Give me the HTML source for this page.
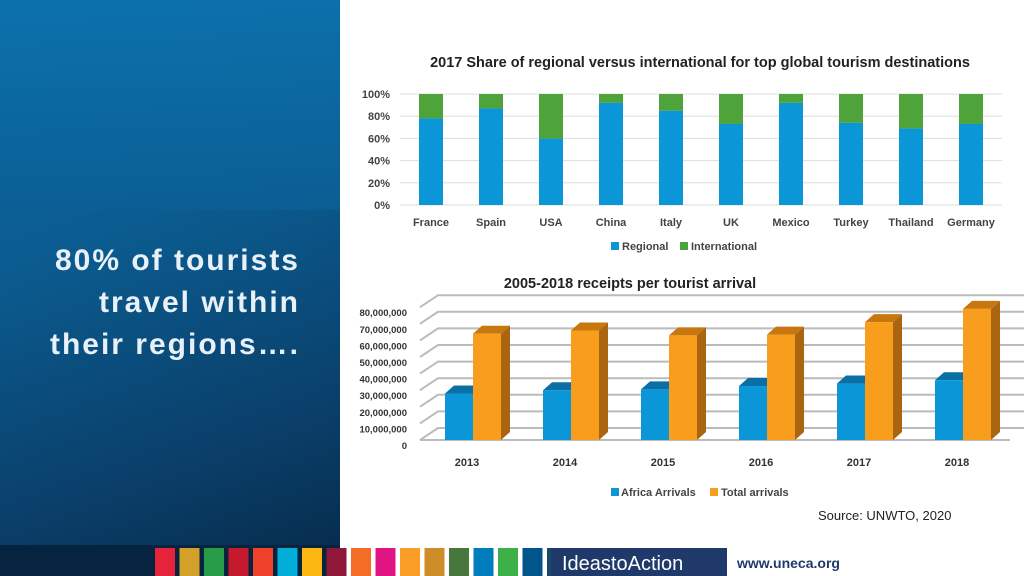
<!DOCTYPE html>
<html><head><meta charset="utf-8"><style>
body{margin:0;width:1024px;height:576px;overflow:hidden;background:#fff;font-family:"Liberation Sans",sans-serif;position:relative}
#left{position:absolute;left:0;top:0;width:340px;height:576px;background:linear-gradient(160deg,#0a6aa3 0%,#0b5b8f 40%,#0a3f6a 75%,#062a48 100%)}
#lefttop{position:absolute;left:0;top:0;width:340px;height:210px;background:linear-gradient(180deg,#0d73ae,#0a5f96);opacity:.8}
#headline{position:absolute;left:0;top:240px;width:300px;text-align:right;color:#e8f0f8;font:bold 30px/42px "Liberation Sans",sans-serif;letter-spacing:2px;white-space:nowrap}
svg text{font-family:"Liberation Sans",sans-serif}
</style></head><body>
<div id="left"></div>
<div id="lefttop"></div>
<div id="headline">80% of tourists<br>travel within<br>their regions….</div>
<svg id="s" width="1024" height="576" style="position:absolute;left:0;top:0"></svg>
<script>
const countries=["France","Spain","USA","China","Italy","UK","Mexico","Turkey","Thailand","Germany"];
const regional=[78,87,60,92,85,73,92,74,69,73];
const pctTicks=["0%","20%","40%","60%","80%","100%"];
const years=["2013","2014","2015","2016","2017","2018"];
const africa=[28,30,30.5,32.5,34,36];
const total=[64,66,63,63.5,71,79];
const moneyTicks=["0","10,000,000","20,000,000","30,000,000","40,000,000","50,000,000","60,000,000","70,000,000","80,000,000"];
const NS="http://www.w3.org/2000/svg";
const s=document.getElementById('s');
function mk(t,a,txt){const e=document.createElementNS(NS,t);for(const k in a)e.setAttribute(k,a[k]);if(txt!==undefined)e.textContent=txt;s.appendChild(e);return e;}
// chart 1
let e=mk('text',{x:700,y:67,'text-anchor':'middle','font-size':14.5,'font-weight':'bold',fill:'#222'},'2017 Share of regional versus international for top global tourism destinations');

const y1=v=>205-v*1.11, x1=i=>431+i*60;
pctTicks.forEach((t,i)=>{const y=y1(i*20);
 e=mk('line',{x1:400,x2:1002,y1:y,y2:y,stroke:'#ddd'});
 e=mk('text',{x:390,y:y+4,'text-anchor':'end','font-size':11,'font-weight':'bold',fill:'#444'},t);});
countries.forEach((c,i)=>{const r=regional[i];
 e=mk('rect',{x:x1(i)-12,y:y1(r),width:24,height:y1(0)-y1(r),fill:'#0b96d8'});
 e=mk('rect',{x:x1(i)-12,y:y1(100),width:24,height:y1(r)-y1(100),fill:'#4ea33a'});
 e=mk('text',{x:x1(i),y:226,'text-anchor':'middle','font-size':11,'font-weight':'bold',fill:'#444'},c);});
e=mk('rect',{x:611,y:242,width:8,height:8,fill:'#0b96d8'});
e=mk('text',{x:622,y:250,'font-size':11,'font-weight':'bold',fill:'#444'},'Regional');
e=mk('rect',{x:680,y:242,width:8,height:8,fill:'#4ea33a'});
e=mk('text',{x:691,y:250,'font-size':11,'font-weight':'bold',fill:'#444'},'International');
// chart 2
e=mk('text',{x:630,y:288,'text-anchor':'middle','font-size':14.5,'font-weight':'bold',fill:'#222'},'2005-2018 receipts per tourist arrival');

const y2=v=>440-v*1.66, dx=18, dy=12;
moneyTicks.forEach((t,i)=>{const y=y2(i*10);
 e=mk('polyline',{points:`${420},${y} ${420+dx},${y-dy} 1024,${y-dy}`,fill:'none',stroke:'#bbb','stroke-width':2});
 e=mk('text',{x:407,y:y+9,'text-anchor':'end','font-size':9.5,'font-weight':'bold',fill:'#333'},t);});
e=mk('line',{x1:420,x2:1010,y1:440,y2:440,stroke:'#bbb','stroke-width':2});
function bar3(x,v,front,top,side,name){const yt=y2(v),w=28,d=9,h=8;
 e=mk('polygon',{points:`${x+w},${yt} ${x+w+d},${yt-h} ${x+w+d},${440-h} ${x+w},440`,fill:side});
 e=mk('polygon',{points:`${x},${yt} ${x+d},${yt-h} ${x+w+d},${yt-h} ${x+w},${yt}`,fill:top});
 e=mk('rect',{x:x,y:yt,width:w,height:440-yt,fill:front});}
years.forEach((yr,i)=>{const x=445+i*98;
 bar3(x,africa[i],'#0b96d8','#0a6fa5','#0a6fa5','bar-africa-'+yr);
 bar3(x+28,total[i],'#f99d1c','#c8770f','#a9650f','bar-total-'+yr);
 e=mk('text',{x:x+22,y:466,'text-anchor':'middle','font-size':11,'font-weight':'bold',fill:'#333'},yr);});
e=mk('rect',{x:611,y:488,width:8,height:8,fill:'#0b96d8'});
e=mk('text',{x:621,y:496,'font-size':11,'font-weight':'bold',fill:'#444'},'Africa Arrivals');
e=mk('rect',{x:710,y:488,width:8,height:8,fill:'#f99d1c'});
e=mk('text',{x:721,y:496,'font-size':11,'font-weight':'bold',fill:'#444'},'Total arrivals');
e=mk('text',{x:818,y:520,'font-size':13,fill:'#222'},'Source: UNWTO, 2020');
// footer
e=mk('rect',{x:0,y:545,width:340,height:31,fill:'#06243f'});
const sdg=['#e5243b','#d3a029','#279b48','#c5192d','#ef402b','#00aed9','#fdb713','#8f1838','#f36d25','#e11484','#f99d26','#cf8d2a','#48773e','#007dbc','#3eb049','#02558b','#19486a'];
sdg.forEach((c,i)=>{e=mk('rect',{x:155+i*24.5,y:548,width:20,height:28,fill:c});});
e=mk('rect',{x:551,y:548,width:176,height:28,fill:'#1f3a6a'});
e=mk('text',{x:562,y:570,'font-size':20,fill:'#fff'},'IdeastoAction');
e=mk('text',{x:737,y:568,'font-size':14,'font-weight':'bold',fill:'#1f3a6a'},'www.uneca.org');
</script>
</body></html>
